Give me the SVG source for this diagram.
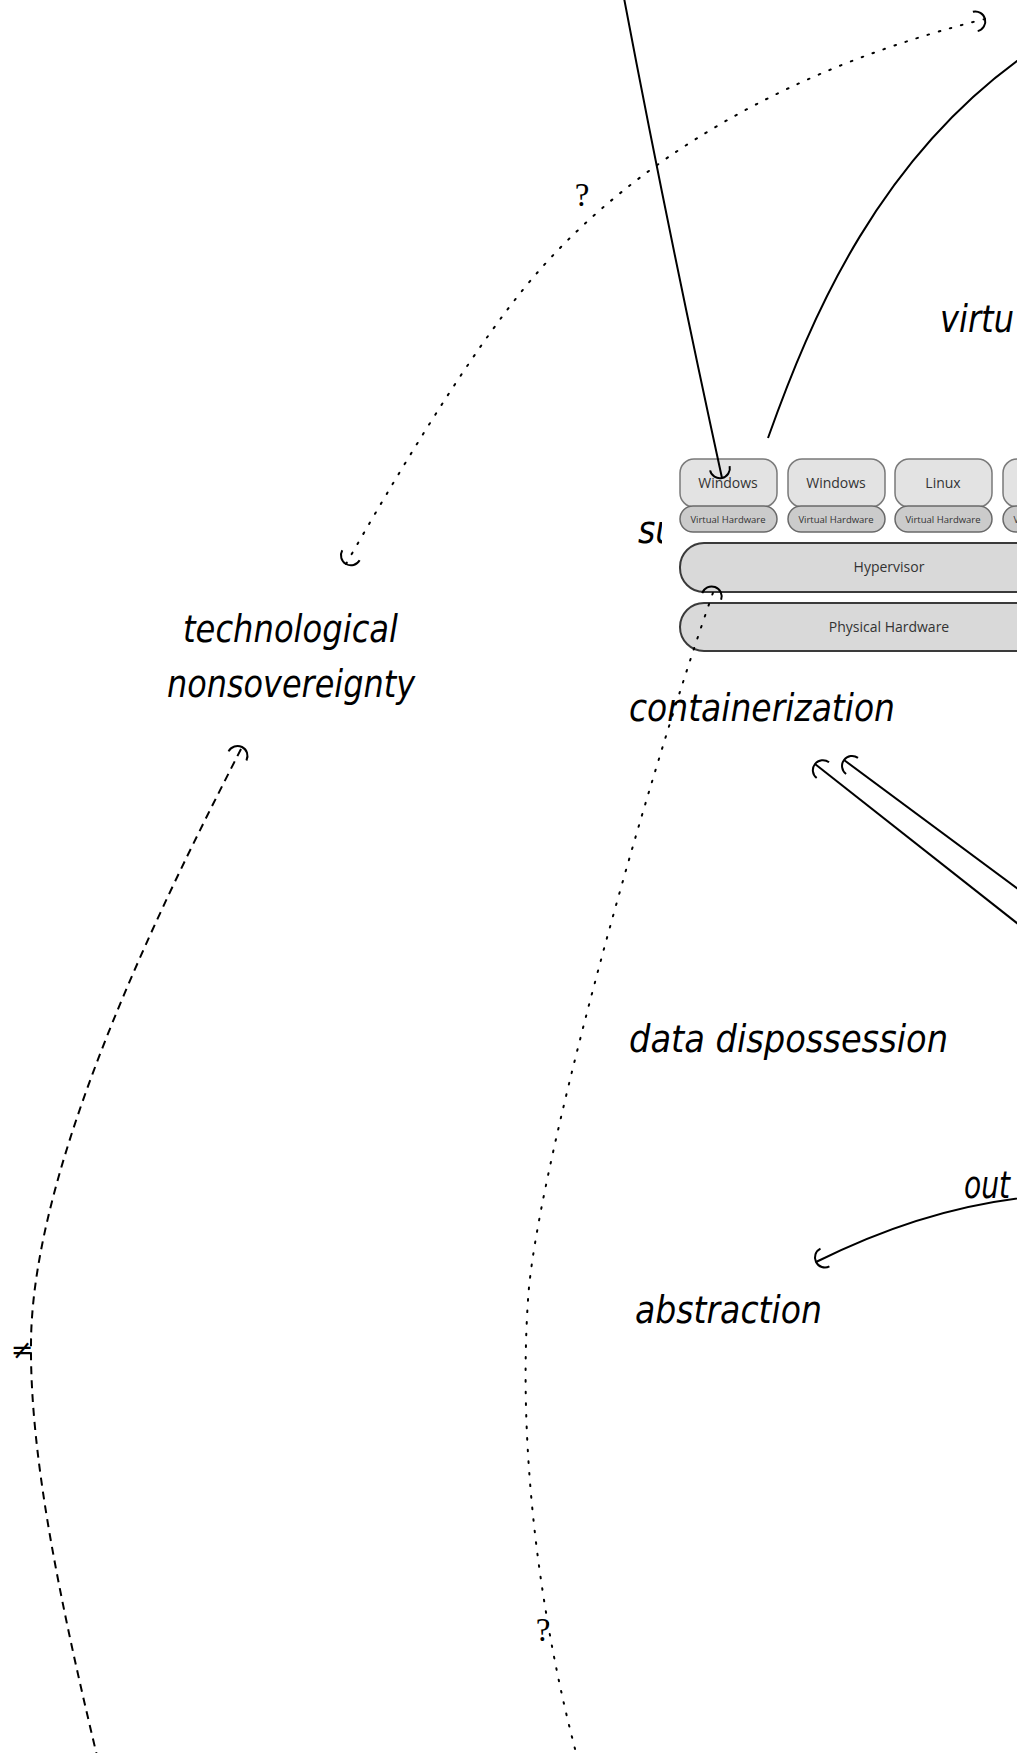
<svg xmlns="http://www.w3.org/2000/svg" width="1017" height="1753" viewBox="0 0 1017 1753">
<style>
.lbl{font-family:"DejaVu Sans Condensed","Liberation Sans Narrow","DejaVu Sans",sans-serif;font-style:italic;font-stretch:condensed;font-size:37px;fill:#000}
.q{font-family:"Liberation Serif","DejaVu Serif",serif;font-size:33px;fill:#000;text-anchor:middle}
.ne{font-family:"DejaVu Sans",sans-serif;font-size:27px;fill:#000;text-anchor:middle}
.os{fill:#e3e3e3;stroke:#7a7a7a;stroke-width:1.5}
.vh{fill:#cbcbcb;stroke:#6a6a6a;stroke-width:1.5}
.bar{fill:#d9d9d9;stroke:#3a3a3a;stroke-width:2}
.st{font-family:"Open Sans","Liberation Sans",sans-serif;fill:#333;text-anchor:middle}
.c{fill:none;stroke:#000;stroke-width:2}
.dot{stroke-dasharray:1.6 10;stroke-linecap:round}
.dash{stroke-dasharray:8 6}
</style>
<defs>
<marker id="hook" markerUnits="userSpaceOnUse" markerWidth="30" markerHeight="30" viewBox="-15 -15 30 30" refX="0" refY="0" orient="auto-start-reverse">
<path d="M-10,-10 A10,10 0 0 1 -10,10" fill="none" stroke="#000" stroke-width="2" stroke-dasharray="none"/>
</marker>
</defs>
<rect width="1017" height="1753" fill="#fff"/>

<g id="node-su"><text class="lbl" x="638" y="543">su</text></g>

<g id="node-stack">
<rect x="662" y="440" width="380" height="222" fill="#fff"/>
<rect class="os" x="680" y="459" width="97" height="48" rx="14"/>
<rect class="os" x="788" y="459" width="97" height="48" rx="14"/>
<rect class="os" x="895" y="459" width="97" height="48" rx="14"/>
<rect class="os" x="1003" y="459" width="97" height="48" rx="14"/>
<rect class="vh" x="680" y="506" width="97" height="26" rx="13"/>
<rect class="vh" x="788" y="506" width="97" height="26" rx="13"/>
<rect class="vh" x="895" y="506" width="97" height="26" rx="13"/>
<rect class="vh" x="1003" y="506" width="97" height="26" rx="13"/>
<rect class="bar" x="680" y="543" width="420" height="49" rx="24"/>
<rect class="bar" x="680" y="603" width="420" height="48" rx="24"/>
<text class="st" x="728" y="488" font-size="14">Windows</text>
<text class="st" x="836" y="488" font-size="14">Windows</text>
<text class="st" x="943" y="488" font-size="14">Linux</text>
<text class="st" x="728" y="523" font-size="9.5">Virtual Hardware</text>
<text class="st" x="836" y="523" font-size="9.5">Virtual Hardware</text>
<text class="st" x="943" y="523" font-size="9.5">Virtual Hardware</text>
<text class="st" x="1051" y="523" font-size="9.5">Virtual Hardware</text>
<text class="st" x="889" y="572" font-size="14">Hypervisor</text>
<text class="st" x="889" y="632" font-size="14">Physical Hardware</text>
</g>

<g id="node-virtu"><text class="lbl" x="940" y="332" textLength="74" lengthAdjust="spacingAndGlyphs">virtu</text></g>
<g id="node-containerization"><text class="lbl" x="629" y="721" textLength="266" lengthAdjust="spacingAndGlyphs">containerization</text></g>
<g id="node-technological"><text class="lbl" x="183" y="642" textLength="215" lengthAdjust="spacingAndGlyphs">technological</text>
<text class="lbl" x="167" y="697" textLength="248" lengthAdjust="spacingAndGlyphs">nonsovereignty</text></g>
<g id="node-data"><text class="lbl" x="629" y="1052" textLength="319" lengthAdjust="spacingAndGlyphs">data dispossession</text></g>
<g id="node-out"><text class="lbl" x="964" y="1198" textLength="46" lengthAdjust="spacingAndGlyphs">out</text></g>
<g id="node-abstraction"><text class="lbl" x="635" y="1323" textLength="187" lengthAdjust="spacingAndGlyphs">abstraction</text></g>

<g id="connectors">
<path class="c" d="M624,-2 Q668,230 722,478" marker-end="url(#hook)"/>
<path class="c" d="M768,438 C810,320 880,150 1040,45"/>
<path class="c dot" d="M346,564 C390,487 470,350 537,273 C604,196 740,80 985,19" marker-start="url(#hook)" marker-end="url(#hook)"/>
<path class="c dot" d="M578,1760 C540,1620 518,1450 528,1300 C535,1180 640,800 715,587" marker-end="url(#hook)"/>
<path class="c dash" d="M98,1760 C62,1610 30,1460 31,1345 C31,1150 190,850 242,747" marker-end="url(#hook)"/>
<path class="c" d="M1060,957 L815,764" marker-end="url(#hook)"/>
<path class="c" d="M1060,920 L844,760" marker-end="url(#hook)"/>
<path class="c" d="M1040,1196 Q930,1205 816,1262" marker-end="url(#hook)"/>
<text class="q" x="582" y="206">?</text>
<text class="q" x="543" y="1641">?</text>
<text class="ne" x="22" y="1359">≠</text>
</g>
</svg>
